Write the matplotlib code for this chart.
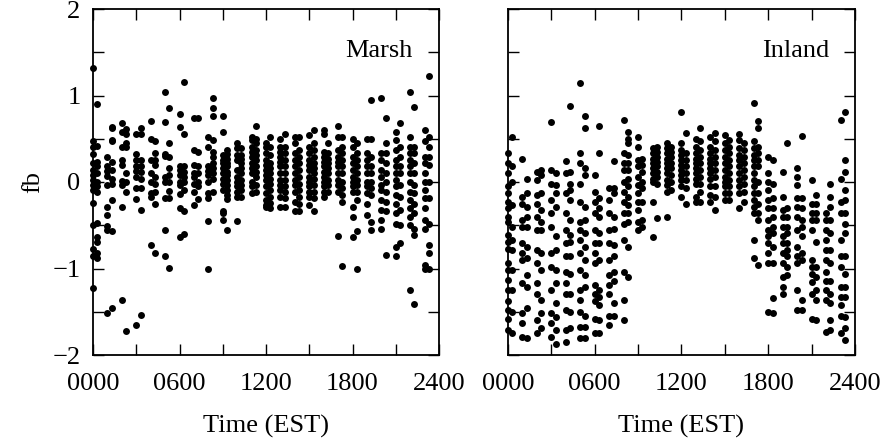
import matplotlib
matplotlib.use("Agg")
import matplotlib.pyplot as plt

plt.rcParams['font.family'] = ['Liberation Serif', 'DejaVu Serif']

# observation times (hours EST), two samples per hour
times = [0.0, 0.3, 1.0, 1.3, 2.0, 2.3, 3.0, 3.3, 4.0, 4.3, 5.0, 5.3,
         6.0, 6.3, 7.0, 7.3, 8.0, 8.3, 9.0, 9.3, 10.0, 10.3, 11.0, 11.3,
         12.0, 12.3, 13.0, 13.3, 14.0, 14.3, 15.0, 15.3, 16.0, 16.3, 17.0, 17.3,
         18.0, 18.3, 19.0, 19.3, 20.0, 20.3, 21.0, 21.3, 22.0, 22.3, 23.0, 23.3]

# fb values per time column
marsh_fb = [
    [1.32, 0.47, 0.41, 0.32, 0.22, 0.14, 0.08, 0.02, -0.03, -0.09, -0.24, -0.5, -0.77, -0.86, -1.22],
    [0.9, 0.42, 0.23, 0.19, 0.1, 0.0, -0.05, -0.12, -0.47, -0.64, -0.69, -0.82, -0.88],
    [0.29, 0.18, 0.13, 0.07, -0.03, -0.29, -0.38, -0.51, -0.55, -1.52],
    [0.64, 0.62, 0.49, 0.47, 0.23, 0.14, 0.04, -0.02, -0.21, -0.57, -1.46],
    [0.68, 0.58, 0.41, 0.25, 0.2, 0.01, -0.03, -0.29, -1.36],
    [0.61, 0.56, 0.45, 0.41, 0.1, 0.0, -0.12, -1.72],
    [0.56, 0.32, 0.25, 0.19, 0.13, 0.06, -0.07, -0.2, -1.65],
    [0.63, 0.55, 0.26, 0.18, 0.12, 0.04, -0.07, -0.32, -1.54],
    [0.7, 0.5, 0.25, 0.1, 0.0, -0.13, -0.17, -0.73],
    [0.47, 0.33, 0.25, 0.2, 0.06, -0.02, -0.11, -0.25, -0.82],
    [1.04, 0.69, 0.32, 0.3, 0.06, 0.0, -0.18, -0.56, -0.86],
    [0.85, 0.45, 0.29, 0.16, 0.08, 0.0, -0.1, -0.19, -0.99],
    [0.79, 0.64, 0.18, 0.14, 0.08, 0.0, -0.03, -0.14, -0.3, -0.64],
    [1.16, 0.55, 0.18, 0.12, 0.06, 0.0, -0.09, -0.34, -0.6],
    [0.74, 0.37, 0.2, 0.1, 0.06, -0.02, -0.12, -0.27],
    [0.74, 0.35, 0.18, 0.1, 0.0, -0.05, -0.2],
    [0.52, 0.41, 0.18, 0.13, 0.08, 0.0, -0.13, -0.18, -0.45, -1.0],
    [0.97, 0.85, 0.76, 0.49, 0.35, 0.29, 0.22, 0.16, 0.1, 0.04, -0.11],
    [0.76, 0.58, 0.31, 0.26, 0.22, 0.16, 0.1, 0.04, -0.02, -0.09, -0.33, -0.36, -0.44],
    [0.37, 0.32, 0.27, 0.22, 0.18, 0.12, 0.08, 0.02, -0.03, -0.09, -0.15, -0.2, -0.56],
    [0.45, 0.39, 0.31, 0.25, 0.14, 0.06, 0.0, -0.05, -0.11, -0.17, -0.45],
    [0.39, 0.31, 0.27, 0.22, 0.16, 0.1, 0.02, -0.03, -0.09, -0.17],
    [0.52, 0.49, 0.41, 0.35, 0.29, 0.22, 0.16, 0.1, 0.0, -0.05, -0.13],
    [0.65, 0.5, 0.45, 0.37, 0.31, 0.25, 0.18, 0.12, 0.06, -0.03, -0.11],
    [0.45, 0.41, 0.33, 0.26, 0.2, 0.14, 0.08, 0.02, -0.05, -0.13, -0.21, -0.27, -0.29],
    [0.52, 0.41, 0.31, 0.22, 0.16, 0.1, 0.04, -0.02, -0.09, -0.17, -0.24, -0.3],
    [0.5, 0.41, 0.35, 0.29, 0.23, 0.18, 0.1, 0.02, -0.03, -0.09, -0.17, -0.29],
    [0.55, 0.41, 0.33, 0.25, 0.18, 0.1, 0.02, -0.05, -0.11, -0.19, -0.29],
    [0.52, 0.45, 0.33, 0.25, 0.18, 0.1, 0.02, -0.03, -0.11, -0.23, -0.34],
    [0.52, 0.37, 0.29, 0.22, 0.14, 0.06, -0.02, -0.09, -0.17, -0.25, -0.33],
    [0.54, 0.41, 0.33, 0.25, 0.2, 0.14, 0.06, 0.0, -0.05, -0.11, -0.17, -0.27],
    [0.6, 0.45, 0.37, 0.29, 0.22, 0.16, 0.1, 0.04, -0.03, -0.11, -0.19, -0.33],
    [0.6, 0.56, 0.35, 0.29, 0.23, 0.18, 0.12, 0.06, 0.0, -0.05, -0.11, -0.17],
    [0.45, 0.33, 0.27, 0.22, 0.16, 0.1, 0.02, -0.03, -0.11],
    [0.65, 0.52, 0.37, 0.29, 0.23, 0.18, 0.1, 0.02, -0.03, -0.11, -0.63],
    [0.52, 0.41, 0.33, 0.25, 0.18, 0.1, 0.0, -0.07, -0.15, -0.23, -0.97],
    [0.5, 0.41, 0.29, 0.22, 0.14, 0.06, 0.0, -0.05, -0.11, -0.29, -0.4, -0.64],
    [0.45, 0.33, 0.25, 0.18, 0.1, 0.02, -0.03, -0.11, -0.21, -0.57, -1.01],
    [0.5, 0.33, 0.25, 0.18, 0.1, 0.0, -0.05, -0.13, -0.25, -0.38],
    [0.95, 0.5, 0.29, 0.18, 0.1, 0.0, -0.07, -0.15, -0.46, -0.56],
    [0.97, 0.33, 0.25, 0.14, 0.06, -0.03, -0.09, -0.21, -0.32, -0.44, -0.54],
    [0.74, 0.45, 0.33, 0.22, 0.1, 0.0, -0.11, -0.23, -0.34, -0.84],
    [0.58, 0.49, 0.37, 0.25, 0.18, 0.1, 0.02, -0.05, -0.15, -0.25, -0.36, -0.48, -0.75, -0.86],
    [0.68, 0.41, 0.29, 0.18, 0.1, -0.03, -0.17, -0.32, -0.5, -0.71],
    [1.04, 0.52, 0.41, 0.33, 0.25, 0.18, 0.1, 0.0, -0.11, -0.21, -0.3, -0.4, -0.5, -1.25],
    [0.87, 0.41, 0.33, 0.22, 0.1, -0.03, -0.13, -0.25, -0.36, -0.54, -0.61, -1.41],
    [0.6, 0.47, 0.29, 0.22, 0.1, 0.0, -0.09, -0.19, -0.3, -0.44, -0.54, -0.96, -1.0],
    [1.23, 0.52, 0.41, 0.29, 0.2, 0.0, -0.19, -0.48, -0.73, -0.82, -1.0],
]

inland_fb = [
    [0.33, 0.22, 0.1, -0.05, -0.13, -0.23, -0.3, -0.4, -0.46, -0.61, -0.69, -0.77, -0.94, -1.02, -1.13, -1.25, -1.38, -1.48, -1.58, -1.71],
    [0.52, 0.18, 0.0, -0.27, -0.52, -0.67, -0.79, -1.02, -1.25, -1.5, -1.75],
    [0.27, -0.17, -0.25, -0.44, -0.52, -0.71, -0.82, -0.9, -1.17, -1.52, -1.63, -1.79],
    [0.04, -0.13, -0.29, -0.4, -0.52, -0.75, -0.88, -1.08, -1.21, -1.46, -1.8],
    [0.12, 0.02, -0.15, -0.25, -0.4, -0.56, -0.79, -0.94, -1.17, -1.29, -1.6, -1.75],
    [0.14, 0.08, -0.13, -0.32, -0.46, -0.56, -0.82, -1.02, -1.36, -1.52, -1.69],
    [0.69, 0.14, -0.02, -0.21, -0.36, -0.52, -0.82, -0.98, -1.25, -1.52, -1.63, -1.79],
    [0.1, -0.03, -0.13, -0.29, -0.63, -0.79, -1.02, -1.17, -1.4, -1.56, -1.71, -1.87],
    [0.24, 0.1, -0.13, -0.36, -0.56, -0.71, -0.86, -1.04, -1.17, -1.29, -1.48, -1.71, -1.85],
    [0.88, 0.12, -0.02, -0.09, -0.21, -0.44, -0.61, -0.69, -0.86, -1.06, -1.29, -1.5, -1.69],
    [1.14, 0.33, 0.22, -0.02, -0.23, -0.46, -0.56, -0.67, -0.82, -1.02, -1.25, -1.36, -1.5, -1.68, -1.8],
    [0.76, 0.62, 0.16, 0.08, -0.29, -0.44, -0.59, -0.75, -0.9, -1.08, -1.21, -1.55, -1.68, -1.8],
    [0.08, -0.11, -0.23, -0.36, -0.56, -0.71, -0.82, -0.94, -1.19, -1.29, -1.38, -1.58, -1.75],
    [0.65, 0.33, -0.19, -0.3, -0.4, -0.59, -0.71, -0.9, -1.25, -1.33, -1.42, -1.6, -1.75],
    [-0.07, -0.21, -0.36, -0.56, -0.71, -0.9, -1.08, -1.19, -1.29, -1.55, -1.65],
    [0.24, -0.07, -0.13, -0.4, -0.54, -0.73, -0.86, -1.04, -1.14, -1.4, -1.55],
    [0.72, 0.33, 0.22, 0.14, 0.0, -0.11, -0.23, -0.36, -0.48, -0.67, -1.04, -1.36, -1.6],
    [0.58, 0.5, 0.45, 0.31, 0.22, 0.14, 0.04, -0.05, -0.17, -0.27, -0.36, -0.46, -0.75, -1.1],
    [0.52, 0.41, 0.25, 0.18, 0.06, -0.03, -0.13, -0.23, -0.32, -0.46, -0.56],
    [0.27, 0.2, 0.12, 0.0, -0.07, -0.23, -0.44, -0.52],
    [0.39, 0.33, 0.27, 0.22, 0.16, 0.1, 0.04, 0.0, -0.23, -0.64],
    [0.41, 0.35, 0.29, 0.23, 0.18, 0.12, 0.06, -0.02, -0.42],
    [0.45, 0.39, 0.33, 0.27, 0.22, 0.16, 0.1, 0.02, -0.03, -0.12, -0.4],
    [0.41, 0.35, 0.29, 0.22, 0.16, 0.08, 0.0, -0.09],
    [0.81, 0.45, 0.37, 0.31, 0.25, 0.2, 0.14, 0.08, 0.02, -0.05, -0.17],
    [0.57, 0.33, 0.25, 0.18, 0.1, 0.02, -0.07, -0.25],
    [0.5, 0.41, 0.33, 0.27, 0.22, 0.16, 0.1, 0.04, -0.02, -0.17, -0.23],
    [0.62, 0.47, 0.37, 0.29, 0.22, 0.14, 0.06, -0.02, -0.11, -0.23],
    [0.52, 0.41, 0.33, 0.27, 0.22, 0.16, 0.1, 0.04, -0.05, -0.15, -0.23],
    [0.57, 0.47, 0.37, 0.29, 0.22, 0.14, 0.06, -0.05, -0.17, -0.32],
    [0.54, 0.45, 0.37, 0.29, 0.22, 0.14, 0.06, 0.0, -0.05, -0.13, -0.21],
    [0.49, 0.41, 0.33, 0.25, 0.18, 0.1, 0.02, -0.05, -0.13, -0.21],
    [0.56, 0.49, 0.39, 0.31, 0.25, 0.18, 0.1, 0.02, -0.05, -0.13, -0.3],
    [0.45, 0.37, 0.29, 0.22, 0.14, 0.06, -0.02, -0.11, -0.23],
    [0.91, 0.47, 0.39, 0.31, 0.25, 0.18, 0.1, 0.02, -0.05, -0.13, -0.21, -0.29, -0.36, -0.67, -0.88],
    [0.7, 0.62, 0.41, 0.33, 0.25, 0.18, 0.0, -0.13, -0.25, -0.36, -0.44, -0.96],
    [0.29, 0.1, 0.0, -0.09, -0.21, -0.3, -0.44, -0.56, -0.63, -0.71, -0.82, -0.94, -1.5],
    [0.25, -0.02, -0.19, -0.3, -0.4, -0.52, -0.59, -0.75, -0.94, -1.34, -1.52],
    [0.12, -0.17, -0.32, -0.4, -0.52, -0.63, -0.71, -0.82, -0.94, -1.1, -1.21, -1.3],
    [0.45, -0.3, -0.4, -0.52, -0.59, -0.71, -0.79, -0.86, -0.98, -1.08],
    [0.16, 0.06, -0.03, -0.19, -0.29, -0.4, -0.56, -0.75, -0.86, -0.94, -1.25, -1.48],
    [0.53, -0.19, -0.3, -0.44, -0.52, -0.63, -0.82, -0.9, -1.36, -1.48],
    [0.02, -0.25, -0.36, -0.44, -0.56, -0.9, -0.98, -1.06, -1.16, -1.29, -1.58],
    [-0.15, -0.25, -0.36, -0.44, -0.69, -0.98, -1.1, -1.25, -1.36, -1.6],
    [-0.36, -0.44, -0.56, -0.67, -0.79, -0.9, -1.04, -1.14, -1.25, -1.36, -1.73],
    [-0.02, -0.17, -0.29, -0.44, -0.59, -0.79, -0.94, -1.14, -1.29, -1.4, -1.6, -1.71],
    [0.72, 0.04, -0.23, -0.36, -0.67, -0.86, -0.98, -1.21, -1.33, -1.42, -1.55, -1.75],
    [0.81, 0.25, 0.12, -0.09, -0.21, -0.36, -0.48, -0.59, -0.86, -1.06, -1.21, -1.33, -1.56, -1.69, -1.83],
]

panel_names = ['Marsh', 'Inland']
xticks = [0, 3, 6, 9, 12, 15, 18, 21, 24]
xticklabels = ['0000', '', '0600', '', '1200', '', '1800', '', '2400']
yticks = [-2, -1.5, -1, -0.5, 0, 0.5, 1, 1.5, 2]
yticklabels = ['\u22122', '', '\u22121', '', '0', '', '1', '', '2']

fig = plt.figure(figsize=(8.83, 4.45), dpi=100)
ax1 = fig.add_axes([93 / 883, 90 / 445, 346 / 883, 346 / 445])
ax2 = fig.add_axes([508 / 883, 90 / 445, 347 / 883, 346 / 445])

for ax, data, name in zip([ax1, ax2], [marsh_fb, inland_fb], panel_names):
    for t, vals in zip(times, data):
        ax.plot([t] * len(vals), vals, 'o', color='black', markersize=5,
                markeredgewidth=0, clip_on=False)
    ax.set_xlim(0, 24)
    ax.set_ylim(-2, 2)
    ax.set_xticks(xticks)
    ax.set_xticklabels(xticklabels)
    ax.set_yticks(yticks)
    ax.tick_params(direction='in', top=True, right=True, length=8, width=1,
                   labelsize=19, pad=9)
    ax.tick_params(axis='x', pad=13)
    for sp in ax.spines.values():
        sp.set_linewidth(1.3)
    ax.set_xlabel('Time (EST)', fontsize=19, labelpad=14)
    ax.text(0.925, 0.88, name, transform=ax.transAxes, fontsize=19,
            ha='right', va='center')

ax1.set_yticklabels(yticklabels)
ax2.set_yticklabels([])
ax1.set_ylabel('fb', fontsize=19, labelpad=6)

fig.savefig('out.png', dpi=100)
